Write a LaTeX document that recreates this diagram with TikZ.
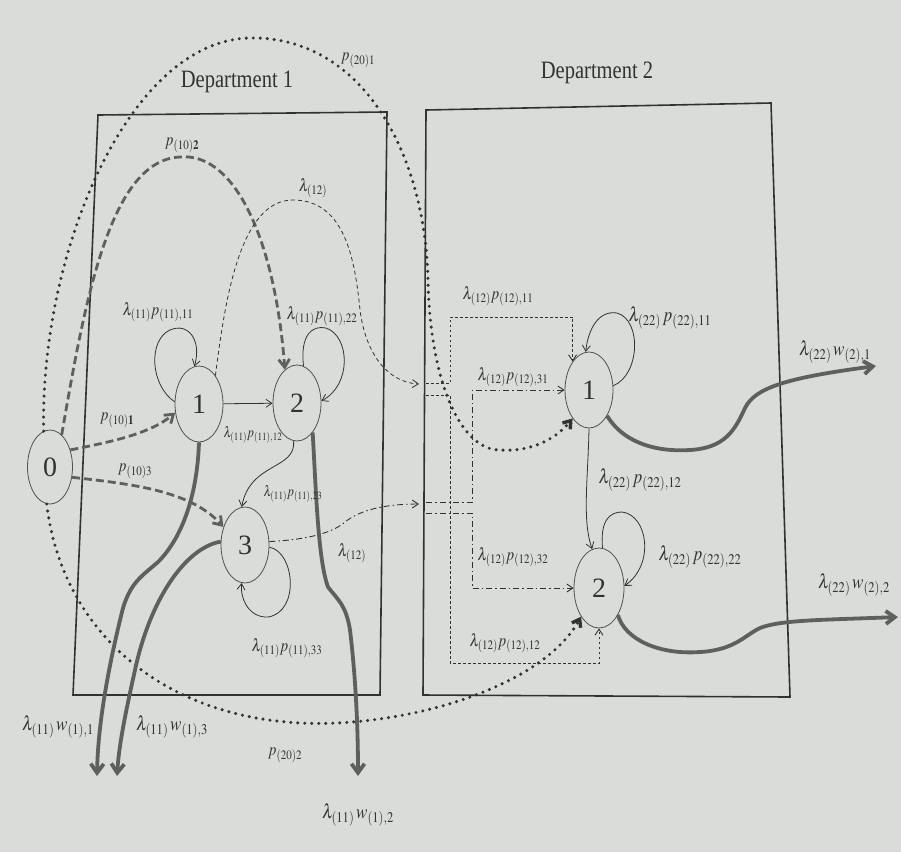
\documentclass[tikz,border=0pt]{standalone}
\usepackage{mathptmx}
\usepackage{fontspec}
\setmainfont{Liberation Serif}
\usetikzlibrary{arrows.meta,shapes.geometric}

\definecolor{paper}{RGB}{217,220,216}
\definecolor{ink}{RGB}{50,50,50}
\definecolor{flow}{RGB}{95,95,95}

\begin{document}
\begin{tikzpicture}[x=1pt,y=-1pt,
  state/.style={ellipse,draw=ink!85,line width=0.8pt,minimum width=48pt,minimum height=76pt,
    inner sep=0pt,font=\fontsize{28}{32}\selectfont,text=ink},
  lab/.style={text=ink,font=\fontsize{17.5}{20}\selectfont,inner sep=0pt,xscale=0.85},
  smalllab/.style={text=ink,font=\fontsize{15}{17}\selectfont,inner sep=0pt,xscale=0.82},
  biglab/.style={text=ink,font=\fontsize{20}{22}\selectfont,inner sep=0pt,xscale=0.85},
  dept/.style={text=ink,font=\fontsize{25}{28}\selectfont,inner sep=0pt,xscale=0.82},
  frame/.style={draw=ink,line width=1.6pt},
  move/.style={draw=ink,line width=0.8pt,-{Straight Barb[length=6pt,width=8pt]}},
  entry/.style={draw=flow,line width=2.8pt,dash pattern=on 8pt off 4pt,
    -{Straight Barb[length=8pt,width=11pt]}},
  route/.style={draw=ink,line width=3.4pt,line cap=round,dash pattern=on 0pt off 7pt,
    -{Straight Barb[length=7pt,width=10pt]}},
  fine/.style={draw=ink,line width=0.8pt,dash pattern=on 4pt off 3pt,
    -{Straight Barb[length=6pt,width=8pt]}},
  finedot/.style={draw=ink,line width=0.9pt,dash pattern=on 2.5pt off 2.5pt,
    -{Straight Barb[length=6pt,width=8pt]}},
  dashdot/.style={draw=ink,line width=0.9pt,dash pattern=on 6pt off 3pt on 1.5pt off 3pt,
    -{Straight Barb[length=6pt,width=8pt]}},
  exit/.style={draw=flow,line width=3.8pt,-{Straight Barb[length=9pt,width=13pt]}}]

% paper
\fill[paper] (0,0) rectangle (901,852);
\useasboundingbox (0,0) rectangle (901,852);

% department frames
\draw[frame] (98,115) -- (387,112) -- (380,695) -- (73,695) -- cycle;
\draw[frame] (426,110) -- (771,103) -- (790,697) -- (423,695) -- cycle;
\node[dept] (d1) at (237,82) {Department 1};
\node[dept] (d2) at (597,73) {Department 2};

% states
\node[state,minimum width=45pt,minimum height=74pt] (a0) at (50,467) {0};
\node[state] (a1) at (199,404) {1};
\node[state] (a2) at (297,403) {2};
\node[state] (a3) at (245,545) {3};
\node[state] (b1) at (589,390) {1};
\node[state,minimum width=50pt,minimum height=80pt] (b2) at (599,588) {2};

% free ends
\coordinate (e1) at (419,384);
\coordinate (e3) at (419,504);
\coordinate (o11) at (97,776);
\coordinate (o13) at (117,776);
\coordinate (o12) at (358,776);
\coordinate (o21) at (876,366);
\coordinate (o22) at (898,617);

% ---- Department 1: internal moves
\draw[move] (a1) -- (a2);
\draw[move] (a2.-95) .. controls (296,470) and (250,462) .. (a3.95);
\draw[move] (a1.175) .. controls (150,385) and (148,340) .. (170,330)
  .. controls (188,322) and (202,340) .. (a1.97);
\draw[move] (a2.80) .. controls (300,335) and (312,325) .. (326,328)
  .. controls (350,336) and (352,385) .. (a2.5);
\draw[move] (a3.-5) .. controls (295,552) and (300,612) .. (268,617)
  .. controls (250,618) and (240,600) .. (a3.-95);

% ---- arrivals from outside (state 0)
\draw[entry] (a0.40) .. controls (110,442) and (150,434) .. (a1.200);
\draw[entry] (a0.-25) .. controls (130,484) and (190,490) .. (a3.140);
\draw[entry] (a0.70) .. controls (85,300) and (110,160) .. (180,157)
  .. controls (235,152) and (275,240) .. (a2.110);
\draw[route] (a0.100) .. controls (40,250) and (130,40) .. (250,38)
  .. controls (360,36) and (425,150) .. (428,280)
  .. controls (430,380) and (460,450) .. (500,450)
  .. controls (530,452) and (555,440) .. (b1.240);
\draw[route] (a0.-95) .. controls (60,620) and (150,715) .. (300,723)
  .. controls (400,728) and (540,690) .. (b2.238);

% ---- transfers to Department 2
\draw[fine] (a1.60) .. controls (225,300) and (240,200) .. (293,200)
  .. controls (345,200) and (355,260) .. (360,310)
  .. controls (365,350) and (385,382) .. (e1);
\draw[dashdot] (a3.8) .. controls (300,540) and (330,535) .. (345,522)
  .. controls (360,510) and (385,504) .. (e3);

% ---- departures
\draw[exit] (a1.-90) .. controls (197,500) and (180,540) .. (158,562)
  .. controls (142,576) and (131,582) .. (123,608)
  .. controls (110,660) and (98,720) .. (o11);
\draw[exit] (a3.172) .. controls (185,548) and (150,600) .. (135,670)
  .. controls (125,715) and (119,745) .. (o13);
\draw[exit] (a2.-62) .. controls (316,490) and (318,560) .. (328,587)
  .. controls (338,600) and (346,605) .. (350,630)
  .. controls (356,680) and (358,730) .. (o12);

% ---- Department 2: split of the incoming streams
\draw[finedot] (426,383) -- (450,383) -- (450,317) -| (b1.120);
\draw[finedot] (426,395) -- (450,395) -- (450,663) -| (b2.south);
\draw[dashdot] (426,502) -- (472,502) -- (472,390) -- (b1.west);
\draw[dashdot] (426,513) -- (472,513) -- (472,588) -- (b2.west);

% ---- Department 2: internal moves
\draw[move] (b1.south) .. controls (588,480) and (582,520) .. (b2.100);
\draw[move] (b1.10) .. controls (640,375) and (642,320) .. (617,313)
  .. controls (598,310) and (588,330) .. (b1.95);
\draw[move] (b2.85) .. controls (600,520) and (610,512) .. (622,512)
  .. controls (648,515) and (655,565) .. (b2.5);

% ---- Department 2: departures
\draw[exit] (b1.-55) .. controls (625,445) and (660,452) .. (690,450)
  .. controls (725,448) and (735,430) .. (745,408)
  .. controls (755,388) and (785,378) .. (o21);
\draw[exit] (b2.-55) .. controls (625,640) and (660,655) .. (700,652)
  .. controls (735,650) and (745,635) .. (760,628)
  .. controls (780,620) and (820,620) .. (o22);

% ---- labels
\node[smalllab] (l12) at (253,435) {$\lambda_{(11)}p_{(11),12}$};
\node[smalllab] (l23) at (293,494) {$\lambda_{(11)}p_{(11),23}$};
\node[lab] (l11) at (158,312) {$\lambda_{(11)}p_{(11),11}$};
\node[lab] (l22) at (322,316) {$\lambda_{(11)}p_{(11),22}$};
\node[lab] (l33) at (287,648) {$\lambda_{(11)}p_{(11),33}$};
\node[lab] (p1) at (117,420) {$p_{(10)\mathbf{1}}$};
\node[lab] (p3) at (135,471) {$p_{(10)3}$};
\node[lab] (p2) at (182,145) {$p_{(10)\mathbf{2}}$};
\node[lab] (q1) at (358,60) {$p_{(20)1}$};
\node[lab] (q2) at (285,755) {$p_{(20)2}$};
\node[lab] (t1) at (313,188) {$\lambda_{(12)}$};
\node[lab] (t3) at (352,553) {$\lambda_{(12)}$};
\node[biglab] (w11) at (58,727) {$\lambda_{(11)}\,w_{(1),1}$};
\node[biglab] (w13) at (172,727) {$\lambda_{(11)}\,w_{(1),3}$};
\node[biglab] (w12) at (358,815) {$\lambda_{(11)}\,w_{(1),2}$};
\node[biglab] (w21) at (835,352) {$\lambda_{(22)}\,w_{(2),1}$};
\node[biglab] (w22) at (854,585) {$\lambda_{(22)}\,w_{(2),2}$};
\node[lab] (s11) at (498,296) {$\lambda_{(12)}p_{(12),11}$};
\node[lab] (s31) at (513,377) {$\lambda_{(12)}p_{(12),31}$};
\node[lab] (s32) at (513,557) {$\lambda_{(12)}p_{(12),32}$};
\node[lab] (s12) at (505,643) {$\lambda_{(12)}p_{(12),12}$};
\node[biglab] (r11) at (670,318) {$\lambda_{(22)}\,p_{(22),11}$};
\node[biglab] (r12) at (640,480) {$\lambda_{(22)}\,p_{(22),12}$};
\node[biglab] (r22) at (700,557) {$\lambda_{(22)}\,p_{(22),22}$};
\end{tikzpicture}
\end{document}
